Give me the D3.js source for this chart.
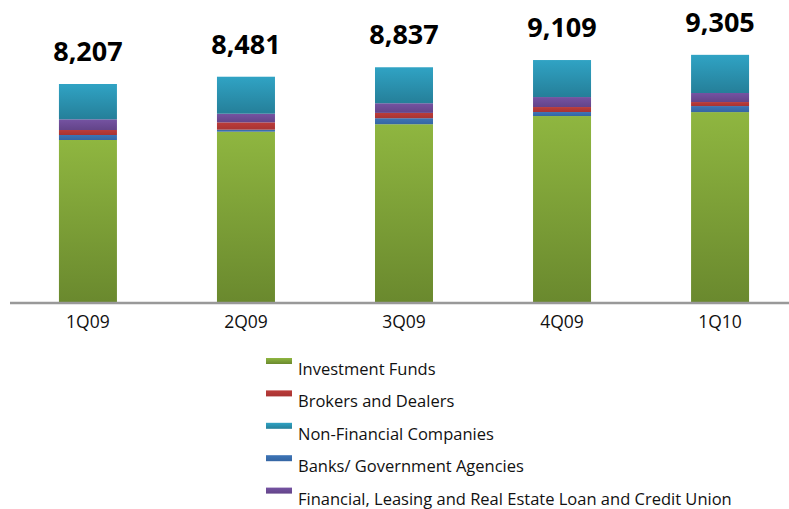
<!DOCTYPE html>
<html>
<head>
<meta charset="utf-8">
<script src="https://cdn.jsdelivr.net/npm/d3@7"></script>
<style>
  body { margin: 0; background: #fff; }
  svg { display: block; font-family: "Open Sans", "Liberation Sans", sans-serif; }
</style>
</head>
<body>
<svg id="chart"></svg>
<script>
// quarters and values per series
const quarters = ["1Q09", "2Q09", "3Q09", "4Q09", "1Q10"];
const investmentFunds = [6099, 6413, 6693, 7001, 7150];
const banksGov = [188, 75, 226, 151, 227];
const brokersDealers = [188, 275, 200, 188, 151];
const financialLeasing = [403, 325, 364, 376, 340];
const nonFinancial = [1329, 1393, 1354, 1393, 1437];
const totals = [8207, 8481, 8837, 9109, 9305];

// stacking order, bottom to top
const series = [
  { key: "inv", name: "Investment Funds", values: investmentFunds, top: "#8fb640", bottom: "#6a892e" },
  { key: "bank", name: "Banks/ Government Agencies", values: banksGov, top: "#3d74b6", bottom: "#3566a3" },
  { key: "brok", name: "Brokers and Dealers", values: brokersDealers, top: "#bb3c3a", bottom: "#a83433" },
  { key: "fin", name: "Financial, Leasing and Real Estate  Loan and Credit Union", values: financialLeasing, top: "#7553a2", bottom: "#634489" },
  { key: "nonfin", name: "Non-Financial Companies", values: nonFinancial, top: "#30a3c4", bottom: "#257f99" }
];
// legend order as shown
const legendOrder = ["inv", "brok", "nonfin", "bank", "fin"];

const W = 789, H = 509;
const svg = d3.select("#chart").attr("width", W).attr("height", H);

const baseY = 302;
const x = d3.scaleBand().domain(quarters).range([9, 799]).paddingInner(0.633).paddingOuter(0.316);
const y = d3.scaleLinear().domain([0, 8207]).range([baseY, 84]);

// gradients
const defs = svg.append("defs");
series.forEach(s => {
  const g = defs.append("linearGradient").attr("id", "g-" + s.key)
    .attr("x1", 0).attr("y1", 0).attr("x2", 0).attr("y2", 1);
  g.append("stop").attr("offset", "0%").attr("stop-color", s.top);
  g.append("stop").attr("offset", "100%").attr("stop-color", s.bottom);
});

const rows = quarters.map((q, i) => {
  const r = { q };
  series.forEach(s => { r[s.key] = s.values[i]; });
  return r;
});
const stacked = d3.stack().keys(series.map(s => s.key))(rows);

svg.append("g").selectAll("g")
  .data(stacked)
  .join("g")
  .attr("fill", d => "url(#g-" + d.key + ")")
  .selectAll("rect")
  .data(d => d)
  .join("rect")
  .attr("x", d => x(d.data.q))
  .attr("width", x.bandwidth())
  .attr("y", d => y(d[1]))
  .attr("height", d => y(d[0]) - y(d[1]));

// axis line
svg.append("line")
  .attr("x1", 10).attr("x2", W)
  .attr("y1", baseY + 1).attr("y2", baseY + 1)
  .attr("stroke", "#999").attr("stroke-width", 2.5);

// category labels
svg.append("g").selectAll("text")
  .data(quarters)
  .join("text")
  .attr("x", d => x(d) + x.bandwidth() / 2)
  .attr("y", 328)
  .attr("text-anchor", "middle")
  .attr("font-size", 17.5)
  .attr("fill", "#111")
  .text(d => d);

// totals
const fmt = d3.format(",");
svg.append("g").selectAll("text")
  .data(totals)
  .join("text")
  .attr("x", (d, i) => x(quarters[i]) + x.bandwidth() / 2)
  .attr("y", d => y(d) - 23)
  .attr("text-anchor", "middle")
  .attr("font-size", 27)
  .attr("font-weight", "bold")
  .attr("fill", "#000")
  .text(d => fmt(d));

// legend
const legend = svg.append("g").selectAll("g")
  .data(legendOrder.map(k => series.find(s => s.key === k)))
  .join("g")
  .attr("transform", (d, i) => "translate(266," + (375 + i * 32.4) + ")");
legend.append("rect")
  .attr("x", 0).attr("y", -17).attr("width", 26).attr("height", 6)
  .attr("fill", d => "url(#g-" + d.key + ")");
legend.append("text")
  .attr("x", 32).attr("y", 0)
  .attr("font-size", 16.5)
  .attr("fill", "#111")
  .text(d => d.name);
</script>
</body>
</html>
